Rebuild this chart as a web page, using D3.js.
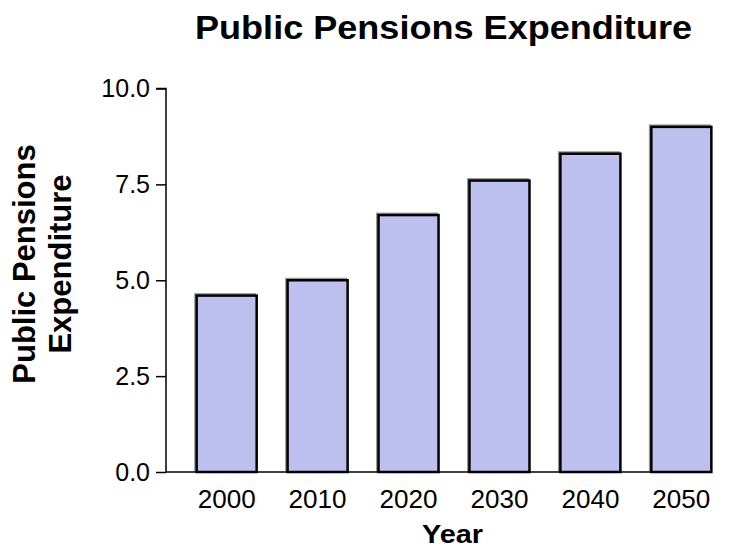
<!DOCTYPE html>
<html>
<head>
<meta charset="utf-8">
<script src="https://cdn.jsdelivr.net/npm/d3@7"></script>
<style>
  body { margin: 0; background: #fff; }
  svg { display: block; font-family: "Liberation Sans", Arial, sans-serif; }
</style>
</head>
<body>
<div id="main"></div>
<script>
var ctx = {
    w: 732,
    h: 553,
};

// data
var years = ["2000", "2010", "2020", "2030", "2040", "2050"];
var expenditure = [4.6, 5.0, 6.7, 7.6, 8.3, 9.0];
var yTicks = [0, 2.5, 5, 7.5, 10];

var svg = d3.select("#main").append("svg")
    .attr("width", ctx.w)
    .attr("height", ctx.h);

var y = d3.scaleLinear()
    .domain([0, 10])
    .range([472, 88.5]);

var x = d3.scaleBand()
    .domain(years)
    .range([166, 742])
    .paddingInner(0.34)
    .paddingOuter(0.337);

// bars, with a faint grey shadow like the original
var bars = svg.append("g");
bars.selectAll("rect.shadow")
    .data(expenditure)
    .enter()
    .append("rect")
    .attr("class", "shadow")
    .attr("x", (d, i) => x(years[i]) - 1.5)
    .attr("y", (d) => y(d) - 1.5)
    .attr("width", x.bandwidth())
    .attr("height", (d) => y(0) - y(d))
    .attr("fill", "none")
    .attr("stroke", "#999")
    .attr("stroke-width", 2);

bars.selectAll("rect.bar")
    .data(expenditure)
    .enter()
    .append("rect")
    .attr("class", "bar")
    .attr("x", (d, i) => x(years[i]))
    .attr("y", (d) => y(d))
    .attr("width", x.bandwidth())
    .attr("height", (d) => y(0) - y(d))
    .attr("fill", "#bdbfee")
    .attr("stroke", "#000")
    .attr("stroke-width", 2.5);

// x baseline + labels
svg.append("line")
    .attr("x1", 166)
    .attr("x2", x(years[years.length - 1]) + x.bandwidth())
    .attr("y1", y(0))
    .attr("y2", y(0))
    .attr("stroke", "#000")
    .attr("stroke-width", 1.5);

svg.append("g")
    .selectAll("text")
    .data(years)
    .enter()
    .append("text")
    .attr("x", (d) => x(d) + x.bandwidth() / 2)
    .attr("y", 508)
    .attr("text-anchor", "middle")
    .attr("textLength", 58)
    .attr("lengthAdjust", "spacingAndGlyphs")
    .style("font-size", "25px")
    .text((d) => d);

// y axis
var yAxis = d3.axisLeft(y)
    .tickValues(yTicks)
    .tickFormat(d3.format(".1f"))
    .tickSize(10)
    .tickPadding(6);

var gy = svg.append("g")
    .attr("transform", "translate(166,0)")
    .call(yAxis);
gy.select(".domain").attr("d", "M-10," + y(10) + "H0V" + y(0)).attr("stroke-width", 1.5);
gy.selectAll(".tick line").attr("stroke-width", 1.5);
gy.selectAll(".tick text")
    .style("font-size", "25px")
    .style("font-family", "'Liberation Sans', Arial, sans-serif")
    .attr("fill", "#000");

// titles
svg.append("text")
    .attr("x", 443.5)
    .attr("y", 39)
    .attr("text-anchor", "middle")
    .attr("textLength", 497)
    .attr("lengthAdjust", "spacingAndGlyphs")
    .style("font-size", "33px")
    .style("font-weight", "bold")
    .text("Public Pensions Expenditure");

svg.append("text")
    .attr("x", 452.5)
    .attr("y", 543)
    .attr("text-anchor", "middle")
    .attr("textLength", 61)
    .attr("lengthAdjust", "spacingAndGlyphs")
    .style("font-size", "25px")
    .style("font-weight", "bold")
    .text("Year");

var ylab = svg.append("text")
    .attr("transform", "translate(0,264) rotate(-90)")
    .attr("text-anchor", "middle")
    .style("font-size", "31px")
    .style("font-weight", "bold");
ylab.append("tspan").attr("x", 0).attr("y", 35).text("Public Pensions");
ylab.append("tspan").attr("x", 0).attr("y", 70.5).text("Expenditure");
</script>
</body>
</html>
